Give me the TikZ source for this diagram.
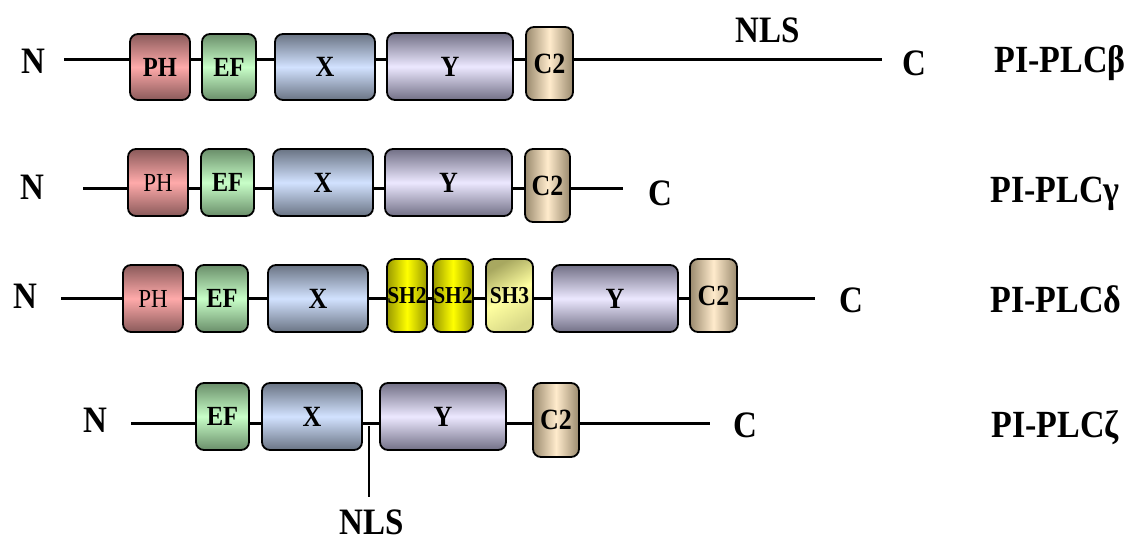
\documentclass[tikz,border=0pt]{standalone}
\usepackage{fontspec}
\usepackage{graphicx}
\setmainfont{Liberation Serif}
\newcommand{\stx}[1]{\scalebox{1}[1.13]{#1}}
\definecolor{phd}{HTML}{8A5A5A}
\definecolor{phl}{HTML}{FFAAAA}
\definecolor{efd}{HTML}{6A8E6A}
\definecolor{efl}{HTML}{C8FFC8}
\definecolor{xd}{HTML}{6A7484}
\definecolor{xl}{HTML}{D2E2FF}
\definecolor{yd}{HTML}{727086}
\definecolor{yl}{HTML}{ECE8FF}
\definecolor{c2d}{HTML}{9A8A6E}
\definecolor{c2l}{HTML}{FFEBCC}
\definecolor{shd}{HTML}{9A9A00}
\definecolor{shl}{HTML}{FFFF00}
\definecolor{s3d}{HTML}{A8A860}
\definecolor{s3l}{HTML}{FFFFA0}
\begin{document}
\begin{tikzpicture}[x=1pt,y=-1pt,
  backbone/.style={line width=3pt},
  dom/.style={draw=black, line width=1.8pt, rounded corners=8pt, inner sep=0pt,
    text depth=0pt, text height=19.4pt, font=\bfseries\fontsize{26}{26}\selectfont},
  sm/.style={font=\bfseries\fontsize{24.5}{24.5}\selectfont, text height=18.3pt},
  phb/.style={dom, sm, top color=phd, bottom color=phd, middle color=phl},
  phr/.style={phb, font=\fontsize{23}{23}\selectfont, text height=17.2pt},
  efb/.style={dom, sm, top color=efd, bottom color=efd, middle color=efl},
  xb/.style={dom, top color=xd, bottom color=xd, middle color=xl},
  yb/.style={dom, top color=yd, bottom color=yd, middle color=yl},
  c2b/.style={dom, left color=c2d, right color=c2d, middle color=c2l},
  sh2b/.style={dom, left color=shd, right color=shd, middle color=shl,
    font=\bfseries\fontsize{21.5}{21.5}\selectfont, text height=16pt},
  sh3b/.style={dom, top color=s3d, bottom color=s3l!85!black, middle color=s3l,
    shading angle=30, font=\bfseries\fontsize{21.5}{21.5}\selectfont, text height=16pt},
  big/.style={inner sep=0pt, text depth=0pt, text height=24.6pt,
    font=\bfseries\fontsize{33}{33}\selectfont},
  lab/.style={inner sep=0pt, text depth=0pt, text height=24.7pt,
    font=\bfseries\fontsize{34}{34}\selectfont},
]
\useasboundingbox (0,0) rectangle (1138,540);

% ---------- Row 1: PI-PLC beta ----------
\coordinate (r1s) at (64,60);
\coordinate (r1e) at (882,60);
\draw[backbone] (r1s) -- (r1e);
\node[phb, minimum width=60pt, minimum height=66pt] (r1ph) at (160,67) {\stx{PH}};
\node[efb, minimum width=54pt, minimum height=66pt] (r1ef) at (229,67) {\stx{EF}};
\node[xb, minimum width=100pt, minimum height=66pt] (r1x) at (325,67) {\stx{X}};
\node[yb, minimum width=126pt, minimum height=67pt] (r1y) at (450,66.5) {\stx{Y}};
\node[c2b, minimum width=47pt, minimum height=73pt] (r1c2) at (549.5,63.5) {\stx{C2}};
\node[big] (r1n) at (33,61) {\stx{N}};
\node[big] (r1c) at (914,63) {\stx{C}};
\node[big] (r1nls) at (768,30) {\stx{NLS}};
\node[lab] (r1lab) at (1060,60) {\stx{PI-PLCβ}};

% ---------- Row 2: PI-PLC gamma ----------
\coordinate (r2s) at (83,189);
\coordinate (r2e) at (623,189);
\draw[backbone] (r2s) -- (r2e);
\node[phr, minimum width=60pt, minimum height=67pt] (r2ph) at (158,182.5) {\stx{PH}};
\node[efb, minimum width=53pt, minimum height=67pt] (r2ef) at (227.5,182.5) {\stx{EF}};
\node[xb, minimum width=100pt, minimum height=67pt] (r2x) at (323,182.5) {\stx{X}};
\node[yb, minimum width=127pt, minimum height=67pt] (r2y) at (448.5,182.5) {\stx{Y}};
\node[c2b, minimum width=45pt, minimum height=73pt] (r2c2) at (547.5,185.5) {\stx{C2}};
\node[big] (r2n) at (32,187) {\stx{N}};
\node[big] (r2c) at (660,193) {\stx{C}};
\node[lab] (r2lab) at (1055,190) {\stx{PI-PLCγ}};

% ---------- Row 3: PI-PLC delta ----------
\coordinate (r3s) at (61,298);
\coordinate (r3e) at (815,298);
\draw[backbone] (r3s) -- (r3e);
\node[phr, minimum width=60pt, minimum height=67pt] (r3ph) at (153,298.5) {\stx{PH}};
\node[efb, minimum width=52pt, minimum height=67pt] (r3ef) at (222,298.5) {\stx{EF}};
\node[xb, minimum width=100pt, minimum height=67pt] (r3x) at (318,298.5) {\stx{X}};
\node[sh2b, minimum width=40pt, minimum height=73pt] (r3sha) at (407,295.5) {\stx{SH2}};
\node[sh2b, minimum width=40pt, minimum height=73pt] (r3shb) at (453,295.5) {\stx{SH2}};
\node[sh3b, minimum width=47pt, minimum height=73pt] (r3sh3) at (509.5,295.5) {\stx{SH3}};
\node[yb, minimum width=126pt, minimum height=67pt] (r3y) at (615,298.5) {\stx{Y}};
\node[c2b, minimum width=47pt, minimum height=73pt] (r3c2) at (713.5,295.5) {\stx{C2}};
\node[big] (r3n) at (25,296) {\stx{N}};
\node[big] (r3c) at (851,300) {\stx{C}};
\node[lab] (r3lab) at (1056,300) {\stx{PI-PLCδ}};

% ---------- Row 4: PI-PLC zeta ----------
\coordinate (r4s) at (131,423);
\coordinate (r4e) at (710,423);
\draw[backbone] (r4s) -- (r4e);
\node[efb, minimum width=53pt, minimum height=67pt] (r4ef) at (222.5,416.5) {\stx{EF}};
\node[xb, minimum width=100pt, minimum height=67pt] (r4x) at (312,416.5) {\stx{X}};
\node[yb, minimum width=126pt, minimum height=67pt] (r4y) at (443,416.5) {\stx{Y}};
\node[c2b, minimum width=46pt, minimum height=74pt] (r4c2) at (556,420) {\stx{C2}};
\node[big] (r4n) at (95,420) {\stx{N}};
\node[big] (r4c) at (745,425) {\stx{C}};
\node[big] (r4nls) at (372,522) {\stx{NLS}};
\node[lab] (r4lab) at (1055,425) {\stx{PI-PLCζ}};
\coordinate (r4nlsa) at (369,426);
\coordinate (r4nlsb) at (369,497);
\draw[line width=2.5pt] (r4nlsa) -- (r4nlsb);
\end{tikzpicture}
\end{document}
